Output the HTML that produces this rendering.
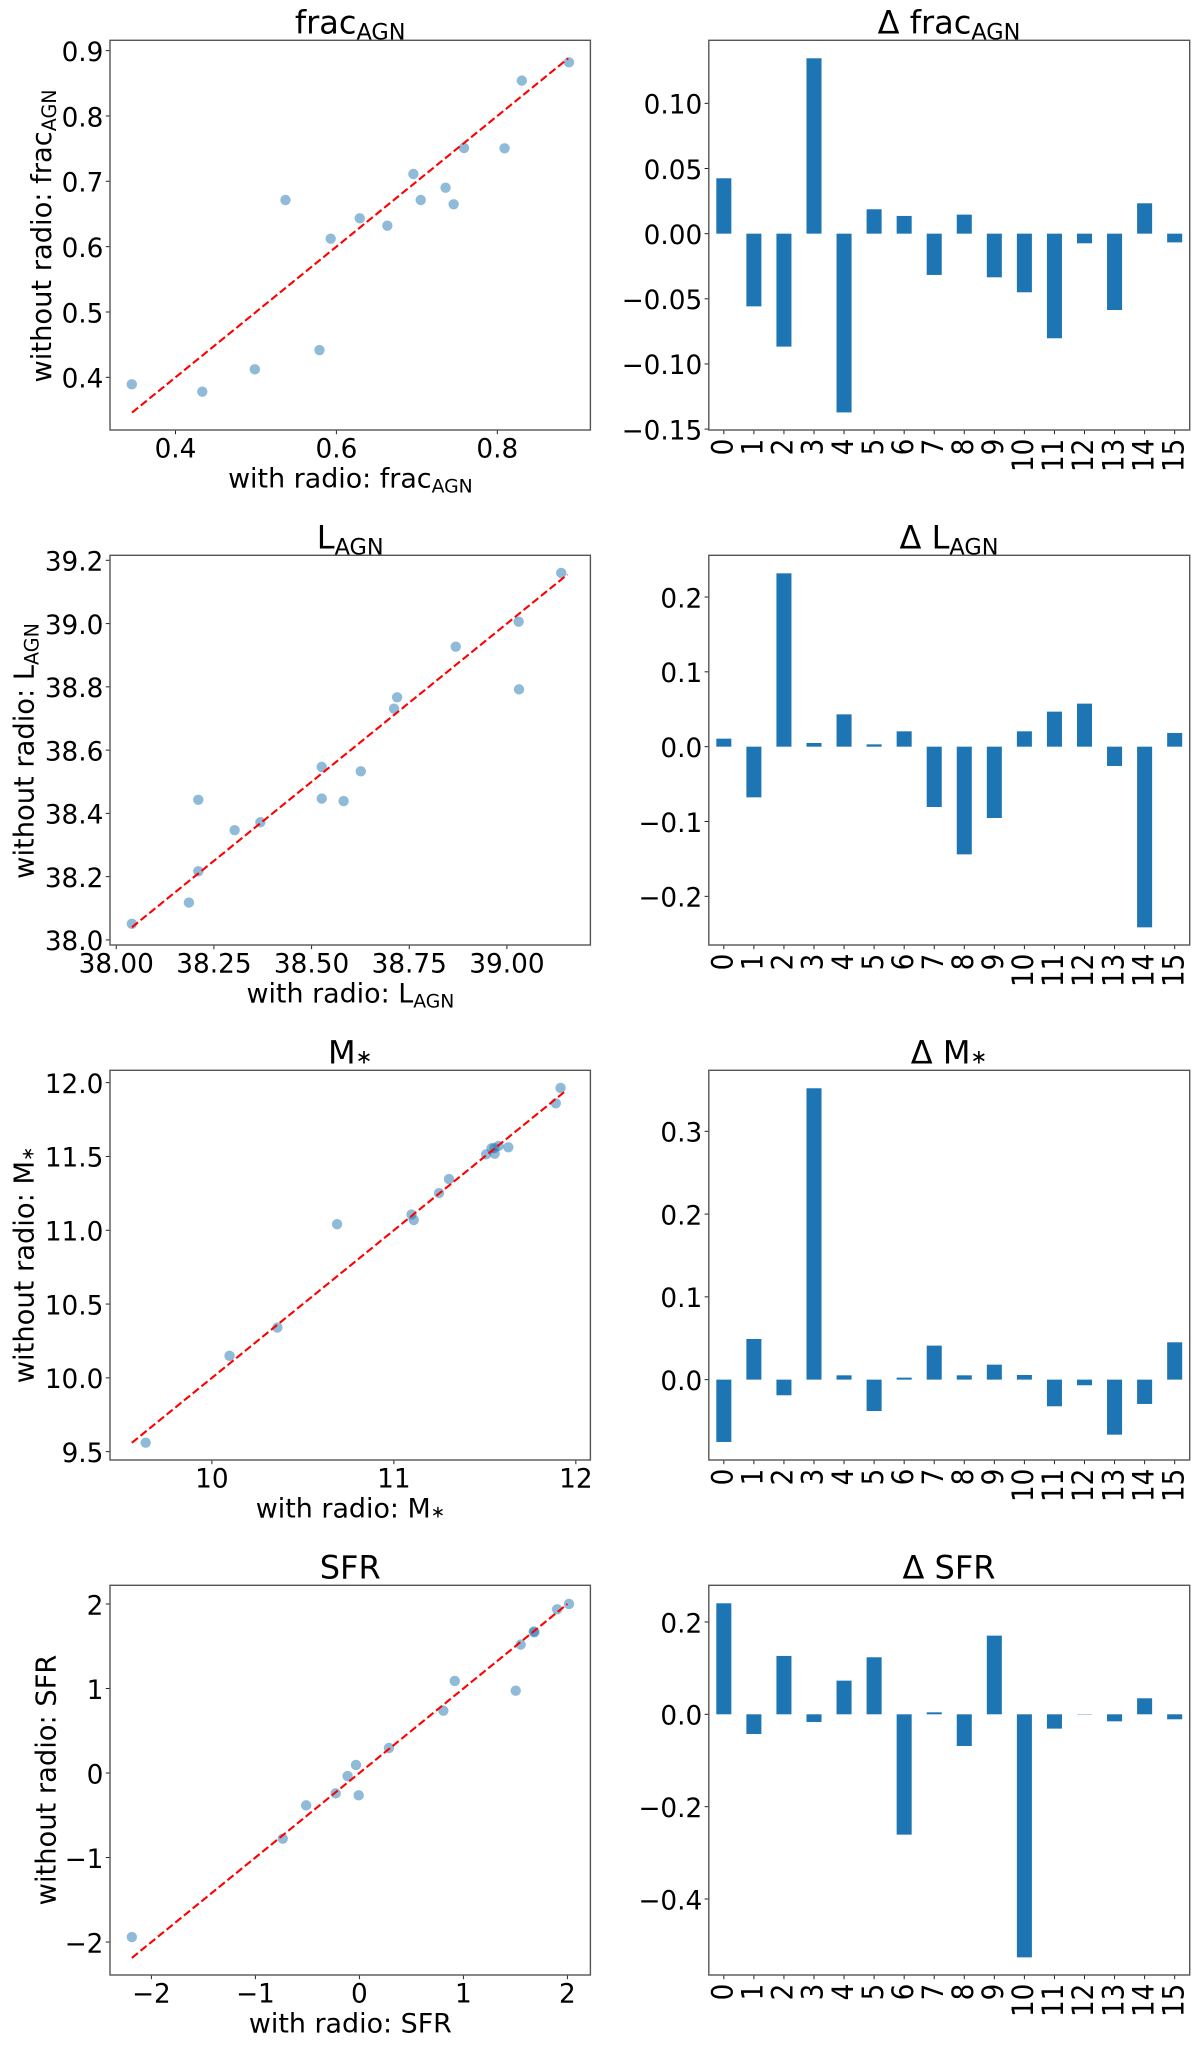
<!DOCTYPE html>
<html lang="en">
<head>
<meta charset="utf-8">
<title>With and without radio comparison</title>
<style>
html,body{margin:0;padding:0;background:#fff;width:1200px;height:2048px;overflow:hidden}
svg{display:block;font-family:"DejaVu Sans","Liberation Sans",sans-serif;fill:#000;filter:blur(0.35px)}
.frame{fill:none;stroke:#555;stroke-width:1.4}
.title{font-size:32px;text-anchor:middle}
.xlab{font-size:26.9px;text-anchor:middle}
.ylab{font-size:27.3px;text-anchor:middle}
.tick{font-size:26.3px}
</style>
</head>
<body>
<svg id="figure" xmlns="http://www.w3.org/2000/svg" width="1200" height="2048" viewBox="0 0 1200 2048">
  <rect x="0" y="0" width="1200" height="2048" fill="#fff"/>

  <g id="p0">
    <text class="title" x="350.2" y="33.6">frac<tspan dy="6" font-size="22.4">AGN</tspan></text>
    <text class="xlab" x="350.4" y="487.3">with radio: frac<tspan dy="5" font-size="18.8">AGN</tspan></text>
    <text class="ylab" transform="translate(51,236) rotate(-90)">without radio: frac<tspan dy="5" font-size="19.1">AGN</tspan></text>
  </g>
  <g id="p1">
    <text class="title" x="949" y="33.6">Δ frac<tspan dy="6" font-size="22.4">AGN</tspan></text>
  </g>

  <g id="p2">
    <text class="title" x="350.2" y="548.6">L<tspan dy="6" font-size="22.4">AGN</tspan></text>
    <text class="xlab" x="350.4" y="1002.3">with radio: L<tspan dy="5" font-size="18.8">AGN</tspan></text>
    <text class="ylab" transform="translate(33.7,751) rotate(-90)">without radio: L<tspan dy="5" font-size="19.1">AGN</tspan></text>
  </g>
  <g id="p3">
    <text class="title" x="949" y="548.6">Δ L<tspan dy="6" font-size="22.4">AGN</tspan></text>
  </g>

  <g id="p4">
    <text class="title" x="350.2" y="1063.6">M<tspan font-size="20">∗</tspan></text>
    <text class="xlab" x="350.4" y="1517.3">with radio: M<tspan font-size="17">∗</tspan></text>
    <text class="ylab" transform="translate(33.7,1265) rotate(-90)">without radio: M<tspan font-size="17">∗</tspan></text>
  </g>
  <g id="p5">
    <text class="title" x="949" y="1063.6">Δ M<tspan font-size="20">∗</tspan></text>
  </g>

  <g id="p6">
    <text class="title" x="350.2" y="1578.6">SFR</text>
    <text class="xlab" x="350.4" y="2032.3">with radio: SFR</text>
    <text class="ylab" transform="translate(55.6,1780) rotate(-90)">without radio: SFR</text>
  </g>
  <g id="p7">
    <text class="title" x="949" y="1578.6">Δ SFR</text>
  </g>
</svg>

<script>
// ---- Chart data ----
var fracWith    = [0.3457,0.4333,0.4986,0.5790,0.5367,0.5929,0.6290,0.6633,0.6957,0.7048,0.7357,0.7457,0.7586,0.8090,0.8305,0.8890];
var fracWithout = [0.3893,0.3781,0.4122,0.4418,0.6714,0.6122,0.6434,0.6321,0.7112,0.6714,0.6903,0.6648,0.7510,0.7505,0.8541,0.8821];
var fracLine    = [0.346,0.888];
var fracXTicks  = ['0.4','0.6','0.8'];
var fracYTicks  = ['0.4','0.5','0.6','0.7','0.8','0.9'];
var fracXLim    = [0.3186,0.9157];
var fracYLim    = [0.3194,0.9158];

var lagnWith    = [38.040,38.186,38.210,38.210,38.303,38.369,38.526,38.526,38.582,38.626,38.711,38.719,38.869,39.030,39.031,39.139];
var lagnWithout = [38.051,38.118,38.217,38.443,38.347,38.372,38.547,38.447,38.439,38.533,38.731,38.767,38.927,39.006,38.792,39.160];
var lagnLine    = [38.04,39.155];
var lagnXTicks  = ['38.00','38.25','38.50','38.75','39.00'];
var lagnYTicks  = ['38.0','38.2','38.4','38.6','38.8','39.0','39.2'];
var lagnXLim    = [37.984,39.2137];
var lagnYLim    = [37.984,39.2158];

var mstarWith    = [9.636,10.097,10.360,10.688,11.097,11.109,11.248,11.303,11.507,11.537,11.554,11.552,11.575,11.629,11.890,11.916];
var mstarWithout = [9.561,10.149,10.341,11.041,11.106,11.070,11.252,11.347,11.514,11.555,11.519,11.557,11.571,11.562,11.860,11.964];
var mstarLine    = [9.56,11.95];
var mstarXTicks  = ['10','11','12'];
var mstarYTicks  = ['9.5','10.0','10.5','11.0','11.5','12.0'];
var mstarXLim    = [9.44,12.08];
var mstarYLim    = [9.4435,12.0836];

var sfrWith    = [-2.188,-0.737,-0.512,-0.228,-0.114,-0.033,-0.007,0.284,0.807,0.917,1.503,1.551,1.676,1.683,1.901,2.015];
var sfrWithout = [-1.941,-0.777,-0.383,-0.241,-0.036,0.095,-0.264,0.296,0.738,1.089,0.974,1.519,1.673,1.665,1.937,2.000];
var sfrLine    = [-2.188,2.0];
var sfrXTicks  = ['-2','-1','0','1','2'];
var sfrYTicks  = ['-2','-1','0','1','2'];
var sfrXLim    = [-2.398,2.221];
var sfrYLim    = [-2.390,2.221];

var barCategories = ['0','1','2','3','4','5','6','7','8','9','10','11','12','13','14','15'];

var deltaFrac = [0.0425,-0.0558,-0.0867,0.1346,-0.1372,0.0187,0.0136,-0.0317,0.0146,-0.0335,-0.0450,-0.0803,-0.0074,-0.0586,0.0233,-0.0067];
var deltaFracTicks = ['-0.15','-0.10','-0.05','0.00','0.05','0.10'];
var deltaFracLim = [-0.1507,0.1484];

var deltaLagn = [0.0107,-0.0677,0.2316,0.0049,0.0432,0.0031,0.0205,-0.0806,-0.1439,-0.0953,0.0205,0.0468,0.0575,-0.0258,-0.2414,0.0183];
var deltaLagnTicks = ['-0.2','-0.1','0.0','0.1','0.2'];
var deltaLagnLim = [-0.2650,0.2557];

var deltaMstar = [-0.0753,0.0491,-0.0189,0.3520,0.0052,-0.0379,0.0024,0.0411,0.0052,0.0181,0.0056,-0.0322,-0.0068,-0.0665,-0.0294,0.0451];
var deltaMstarTicks = ['0.0','0.1','0.2','0.3'];
var deltaMstarLim = [-0.0971,0.3737];

var deltaSfr = [0.2404,-0.0426,0.1264,-0.0166,0.0729,0.1235,-0.2606,0.0043,-0.0686,0.1704,-0.5264,-0.0310,-0.0007,-0.0152,0.0347,-0.0108];
var deltaSfrTicks = ['-0.4','-0.2','0.0','0.2'];
var deltaSfrLim = [-0.5646,0.2794];

// ---- Drawing ----
var NS = 'http://www.w3.org/2000/svg';
var MINUS = '\u2212';

function make(parent, tag, attrs) {
  var el = document.createElementNS(NS, tag);
  for (var k in attrs) el.setAttribute(k, attrs[k]);
  parent.appendChild(el);
  return el;
}
function scale(lim, a, b) {
  return function (v) { return a + (v - lim[0]) / (lim[1] - lim[0]) * (b - a); };
}
function box(col, row) {
  var left = col === 0 ? 110 : 708.8;
  var top = 40.3 + 515 * row;
  return { left: left, right: left + (col === 0 ? 480.4 : 480.9), top: top, bottom: top + 389.7 };
}
function frame(g, b, prefix) {
  var el = make(g, 'rect', { 'class': 'frame', x: b.left, y: b.top, width: b.right - b.left, height: b.bottom - b.top });
  
  
}
function yTicks(g, b, labels, y, prefix) {
  labels.forEach(function (lab) {
    var py = y(Number(lab));
    var tk = make(g, 'line', { x1: b.left - 4.2, x2: b.left, y1: py, y2: py, stroke: '#222', 'stroke-width': 1 });
    
    
    var t = make(g, 'text', { 'class': 'tick', x: b.left - 6.6, y: py + 10.3, 'text-anchor': 'end' });
    t.textContent = lab.replace('-', MINUS);
    
    
  });
}
function xTicks(g, b, labels, x, prefix) {
  labels.forEach(function (lab) {
    var px = x(Number(lab));
    var tk = make(g, 'line', { x1: px, x2: px, y1: b.bottom, y2: b.bottom + 4.2, stroke: '#222', 'stroke-width': 1 });
    
    
    var t = make(g, 'text', { 'class': 'tick', x: px, y: b.bottom + 27.5, 'text-anchor': 'middle' });
    t.textContent = lab.replace('-', MINUS);
    
    
  });
}
function scatter(id, col, row, prefix, xs, ys, line, xLim, yLim, xLabs, yLabs) {
  var g = document.getElementById(id);
  var b = box(col, row);
  var x = scale(xLim, b.left, b.right);
  var y = scale(yLim, b.bottom, b.top);
  xs.forEach(function (v, i) {
    var c = make(g, 'circle', { cx: x(v), cy: y(ys[i]), r: 5.2, fill: '#1f77b4', 'fill-opacity': 0.5 });
    
    
  });
  var l = make(g, 'line', { x1: x(line[0]), y1: y(line[0]), x2: x(line[1]), y2: y(line[1]), stroke: '#ff0000', 'stroke-width': 2.1, 'stroke-dasharray': '7.8 3.4' });
  
  
  xTicks(g, b, xLabs, x, prefix);
  yTicks(g, b, yLabs, y, prefix);
  frame(g, b, prefix);
}
function bars(id, col, row, prefix, values, lim, yLabs) {
  var g = document.getElementById(id);
  var b = box(col, row);
  var x = scale([-0.5, barCategories.length - 0.5], b.left, b.right);
  var y = scale(lim, b.bottom, b.top);
  values.forEach(function (v, i) {
    var y0 = y(0), y1 = y(v);
    var r = make(g, 'rect', { x: x(i - 0.25), width: x(0.25) - x(-0.25), y: Math.min(y0, y1), height: Math.abs(y1 - y0), fill: '#1d75b3' });
    
    
  });
  barCategories.forEach(function (c, i) {
    var px = x(i);
    var tk = make(g, 'line', { x1: px, x2: px, y1: b.bottom, y2: b.bottom + 4.2, stroke: '#222', 'stroke-width': 1 });
    
    
    var t = make(g, 'text', { 'class': 'tick', 'text-anchor': 'end', transform: 'translate(' + (px + 8.7) + ',' + (b.bottom + 8.6) + ') rotate(-90) scale(1,1.12)' });
    t.textContent = c;
    
    
  });
  yTicks(g, b, yLabs, y, prefix);
  frame(g, b, prefix);
}

scatter('p0', 0, 0, 'frac-agn', fracWith, fracWithout, fracLine, fracXLim, fracYLim, fracXTicks, fracYTicks);
scatter('p2', 0, 1, 'l-agn', lagnWith, lagnWithout, lagnLine, lagnXLim, lagnYLim, lagnXTicks, lagnYTicks);
scatter('p4', 0, 2, 'm-star', mstarWith, mstarWithout, mstarLine, mstarXLim, mstarYLim, mstarXTicks, mstarYTicks);
scatter('p6', 0, 3, 'sfr', sfrWith, sfrWithout, sfrLine, sfrXLim, sfrYLim, sfrXTicks, sfrYTicks);
bars('p1', 1, 0, 'delta-frac-agn', deltaFrac, deltaFracLim, deltaFracTicks);
bars('p3', 1, 1, 'delta-l-agn', deltaLagn, deltaLagnLim, deltaLagnTicks);
bars('p5', 1, 2, 'delta-m-star', deltaMstar, deltaMstarLim, deltaMstarTicks);
bars('p7', 1, 3, 'delta-sfr', deltaSfr, deltaSfrLim, deltaSfrTicks);
</script>
</body>
</html>
